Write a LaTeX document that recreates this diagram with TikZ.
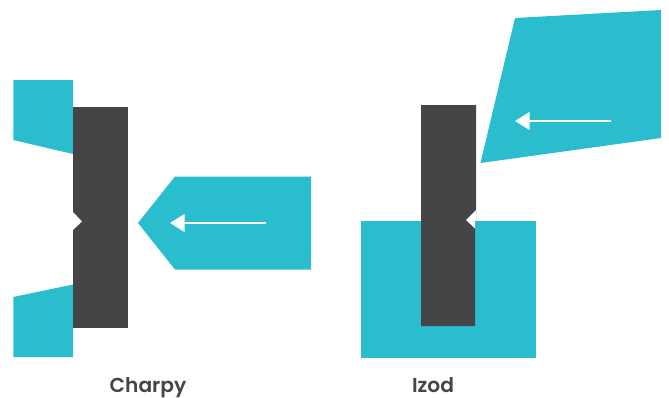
\documentclass[tikz,border=0pt]{standalone}
\usepackage{fontspec}
\setmainfont{Poppins SemiBold}
\usetikzlibrary{arrows.meta}
\definecolor{rigteal}{HTML}{29BDCD}
\definecolor{specgray}{HTML}{434547}
\begin{document}
\begin{tikzpicture}[
    x=1pt, y=-1pt,
    rig/.style={fill=rigteal},
    specimen/.style={fill=specgray},
    notch/.style={fill=white},
    swing/.style={-{Triangle[length=14.7pt,width=18pt]}, draw=white, line width=1.5pt},
    caption/.style={text=specgray, font=\fontsize{20.2}{24}\selectfont, anchor=base, inner sep=0pt}
]
\useasboundingbox (0,0) rectangle (669,397);

% Charpy supports, specimen and hammer
\fill[rig] (13.3,80) -- (73,80) -- (73,154) -- (13.3,140) -- cycle;
\fill[rig] (13.3,297) -- (73,284.5) -- (73,357) -- (13.3,357) -- cycle;
\fill[specimen] (73,107) rectangle (128,328);
\fill[notch] (73,212) -- (82,221.5) -- (73,230) -- cycle;
\fill[rig] (175,176.5) -- (311,176.5) -- (311,269.5) -- (175,269.5) -- (138,223) -- cycle;

% Izod vice, specimen and hammer
\fill[rig] (361,221) rectangle (536,358);
\fill[specimen] (421,105) -- (476,105) -- (476,221) -- (475,221) -- (475,326) -- (421,326) -- cycle;
\fill[notch] (476,210) -- (466,220) -- (475,228.5) -- (475,221) -- (476,221) -- cycle;
\fill[rig] (515,18) -- (661,10) -- (661,138) -- (480.5,163) -- cycle;

% Swing direction
\coordinate (charpytail) at (266,223);
\coordinate (charpyhead) at (170,223);
\coordinate (izodtail) at (611,121);
\coordinate (izodhead) at (515,121);
\draw[swing] (charpytail) -- (charpyhead);
\draw[swing] (izodtail) -- (izodhead);

% Captions
\node[caption] (charpy) at (148,392) {Charpy};
\node[caption] (izod) at (433,392) {Izod};

\end{tikzpicture}
\end{document}
